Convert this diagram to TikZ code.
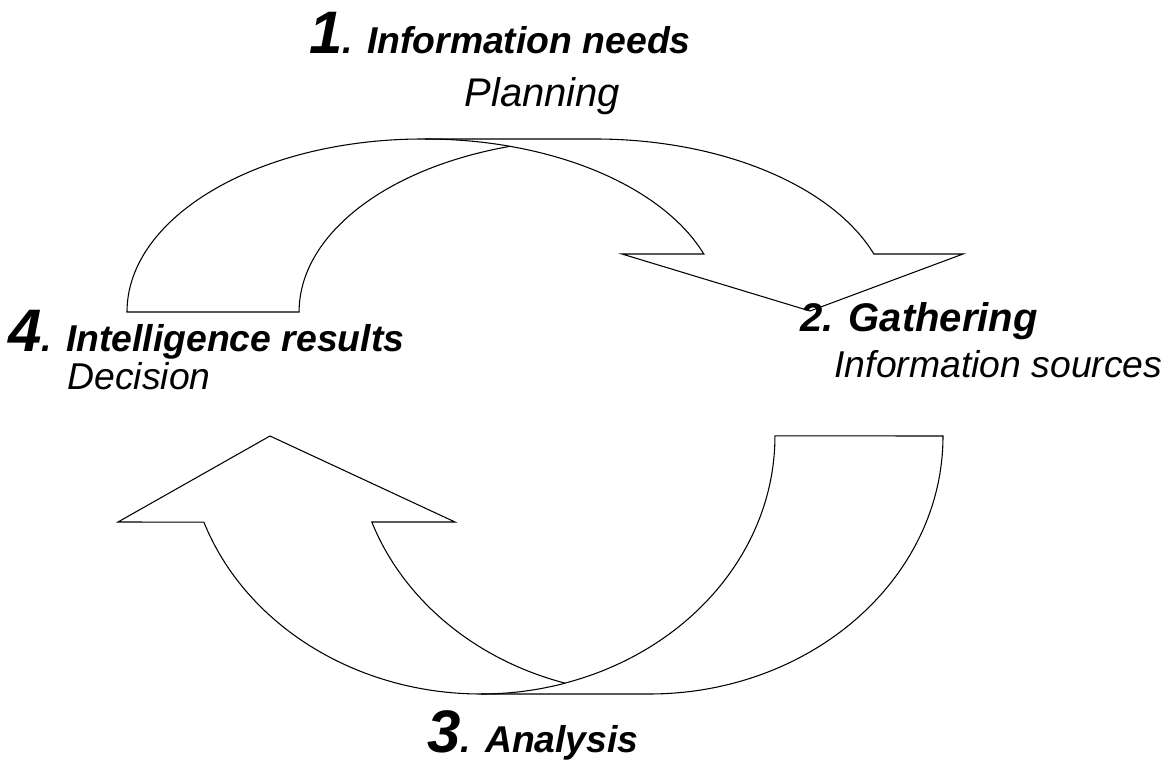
\documentclass[tikz,border=0pt]{standalone}
\usepackage{fontspec}
\setmainfont{Liberation Sans}
\newcommand\bigdig[1]{{\fontsize{45}{48}\selectfont #1}}
\begin{document}
\begin{tikzpicture}[x=0.75pt,y=0.75pt,line width=0.8pt,
  band/.style={draw=black,fill=white,line join=miter},
  ttl/.style={anchor=base west,inner sep=0pt,font=\fontsize{28}{32}\selectfont\bfseries\itshape},
  sub/.style={anchor=base west,inner sep=0pt,font=\fontsize{28}{32}\selectfont\itshape},
  ell/.style={x radius=296,y radius=173},
  elb/.style={x radius=294,y radius=258}]
\useasboundingbox (0,0) rectangle (1175,783);
% top curved arrow (1 -> 2)
\draw[band] (127,471) arc[start angle=180,end angle=90,ell] -- (595,644)
  arc[start angle=90,end angle=19.6,ell] -- (963,529) -- (810,472) -- (622,529) -- (703.8,529)
  arc[start angle=19.6,end angle=73.3,ell]
  arc[start angle=106.7,end angle=180,ell] -- cycle;
\draw (425,644) arc[start angle=90,end angle=73.3,ell];
% bottom curved arrow (2 -> 3 -> 4)
\draw[band] (943,347) arc[start angle=0,end angle=-90,elb] -- (481,89)
  arc[start angle=-90,end angle=-160.5,elb] -- (118,261) -- (270,347) -- (455,261) -- (371.8,261)
  arc[start angle=-160.5,end angle=-106.6,elb]
  arc[start angle=-73.4,end angle=0,elb] -- cycle;
\draw (481,89) arc[start angle=-90,end angle=-73.4,elb];
% labels
\node[ttl] (t1) at (309,729) {\bigdig{1}. Information needs};
\node[sub,font=\fontsize{30}{32}\selectfont\itshape] (s1) at (464,676) {Planning};
\node[ttl,font=\fontsize{30}{32}\selectfont\bfseries\itshape] (t2) at (800,451) {2. Gathering};
\node[sub] (s2) at (834,405) {Information sources};
\node[ttl] (t3) at (427,31) {\bigdig{3}. Analysis};
\node[ttl] (t4) at (8,431) {\bigdig{4}. Intelligence results};
\node[sub] (s4) at (67,393) {Decision};
\end{tikzpicture}
\end{document}
